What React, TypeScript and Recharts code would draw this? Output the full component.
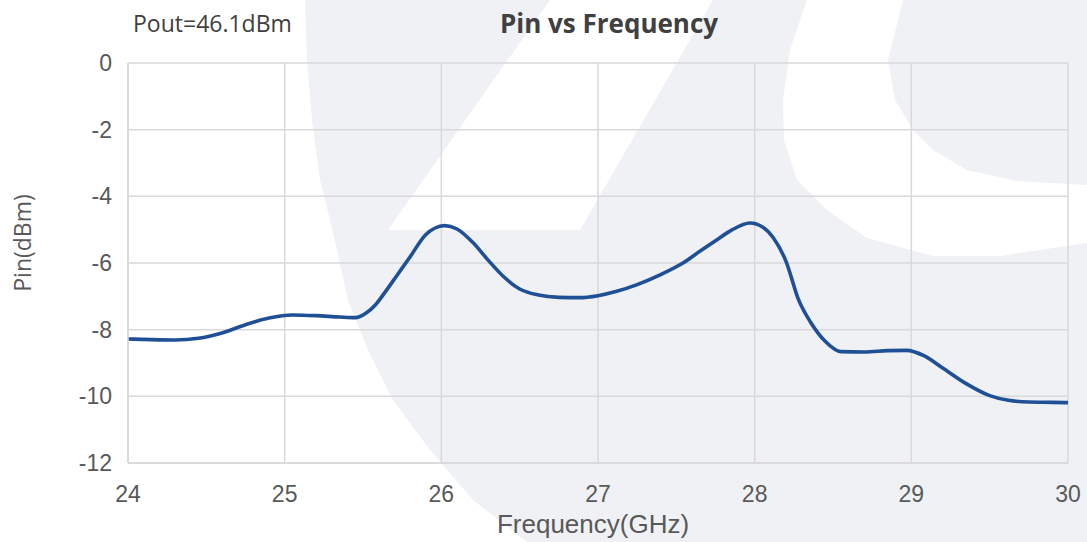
import React from "react";
import { LineChart, Line, XAxis, YAxis, CartesianGrid } from "recharts";

// Pin (dBm) at Pout = 46.1 dBm
const freq = [
  24.0, 24.15, 24.3, 24.45, 24.6, 24.75, 24.9, 25.05, 25.2, 25.35, 25.45, 25.52,
  25.58, 25.64, 25.72, 25.8, 25.9, 25.96, 26.02, 26.1, 26.2, 26.3, 26.4, 26.5,
  26.62, 26.75, 26.88, 27.0, 27.12, 27.25, 27.4, 27.55, 27.65, 27.75, 27.85,
  27.97, 28.05, 28.12, 28.2, 28.28, 28.36, 28.45, 28.55, 28.7, 28.85, 28.97,
  29.08, 29.2, 29.35, 29.5, 29.62, 29.75, 29.9, 30.0,
];
const pin = [
  -8.28, -8.3, -8.31, -8.26, -8.1, -7.85, -7.65, -7.56, -7.58, -7.62, -7.64, -7.5,
  -7.25, -6.88, -6.35, -5.82, -5.15, -4.95, -4.88, -4.98, -5.38, -5.92, -6.42, -6.78,
  -6.96, -7.03, -7.04, -6.98, -6.85, -6.65, -6.35, -5.98, -5.65, -5.33, -5.02,
  -4.8, -4.92, -5.25, -5.95, -7.1, -7.8, -8.35, -8.66, -8.67, -8.63, -8.62,
  -8.78, -9.15, -9.62, -9.98, -10.12, -10.17, -10.18, -10.19,
];
const xTicks = [24, 25, 26, 27, 28, 29, 30];
const yTicks = [-12, -10, -8, -6, -4, -2, 0];

const data = freq.map((f, i) => ({ f, v: pin[i] }));

const W = 1087;
const H = 542;
const tickStyle = { fill: "#595959", fontSize: 23, fontFamily: "Liberation Sans, Arial, sans-serif" };

function Watermark() {
  return (
    <svg width={W} height={H} style={{ position: "absolute", left: 0, top: 0 }}>
      <path
        d="M305,0 L307,60 L312,120 L320,180 L330,220 L337,250 L348,300 L368,350 L393,400 L430,450 L473,500 L527,542 L1087,542 L1087,0 Z"
        fill="#eff1f5"
      />
      <path d="M550,0 L713,0 L580,230 L388,230 Z" fill="#ffffff" />
      <path
        d="M807,0 L790,50 L783,100 L784,140 L797,180 L827,210 L867,238 L933,256 L1000,256 L1087,243 L1087,185 L1017,181 L967,170 L933,150 L913,130 L895,100 L888,60 L903,0 Z"
        fill="#ffffff"
      />
      <text x={133} y={32} fontFamily="Open Sans, sans-serif" fontSize={23} fill="#404040">
        Pout=46.1dBm
      </text>
      <text
        x={609}
        y={33}
        textAnchor="middle"
        fontFamily="Open Sans, sans-serif"
        fontWeight={700}
        fontSize={26}
        fill="#404040"
      >
        Pin vs Frequency
      </text>
    </svg>
  );
}

export default function App() {
  return (
    <div style={{ position: "relative", width: W, height: H }}>
      <style>{`body{margin:0}`}</style>
      <Watermark />
      <LineChart
        width={W}
        height={H}
        data={data}
        margin={{ top: 63, right: 19, left: 0, bottom: 0 }}
        style={{ position: "absolute", left: 0, top: 0 }}
      >
        <CartesianGrid stroke="#d9d9d9" strokeWidth={1.5} />
        <XAxis
          dataKey="f"
          type="number"
          domain={[24, 30]}
          ticks={xTicks}
          height={79}
          tick={tickStyle}
          tickLine={false}
          tickSize={0}
          tickMargin={23}
          axisLine={{ stroke: "#d9d9d9", strokeWidth: 1.5 }}
          label={{
            value: "Frequency(GHz)",
            position: "insideBottom",
            offset: 9,
            dx: -5,
            fill: "#595959",
            fontSize: 26,
            fontFamily: "Liberation Sans, Arial, sans-serif",
          }}
        />
        <YAxis
          type="number"
          domain={[-12, 0]}
          ticks={yTicks}
          width={128}
          tick={tickStyle}
          tickLine={false}
          tickSize={0}
          tickMargin={16}
          axisLine={{ stroke: "#d9d9d9", strokeWidth: 1.5 }}
          label={{
            value: "Pin(dBm)",
            angle: -90,
            position: "insideLeft",
            offset: 23,
            dy: -20,
            fill: "#595959",
            fontSize: 23,
            fontFamily: "Open Sans, sans-serif",
            style: { textAnchor: "middle" },
          }}
        />
        <Line
          type="monotone"
          dataKey="v"
          stroke="#1f5096"
          strokeWidth={3.6}
          dot={false}
          isAnimationActive={false}
        />
      </LineChart>
    </div>
  );
}
